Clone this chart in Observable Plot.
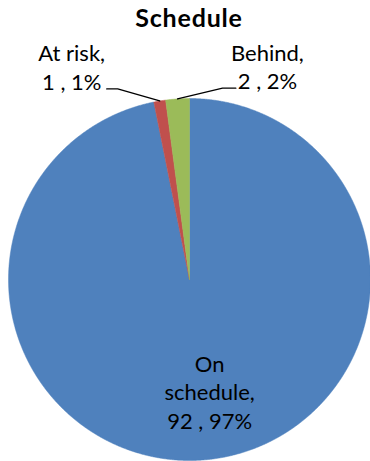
<!DOCTYPE html>
<html>
<head>
<meta charset="utf-8">
<script src="https://cdn.jsdelivr.net/npm/d3@7"></script>
<script src="https://cdn.jsdelivr.net/npm/@observablehq/plot@0.6"></script>
<style>
  body { margin: 0; background: #fff; }
  #chart { width: 370px; }
  .title {
    font-family: Lato, "Open Sans", sans-serif;
    font-weight: bold;
    font-size: 25px;
    letter-spacing: 0.8px;
    color: #000;
    width: 370px;
    height: 36px;
    line-height: 34px;
    padding-left: 8px;
    box-sizing: border-box;
    text-align: center;
    overflow: hidden;
  }
  svg { display: block; }
</style>
</head>
<body>
<div id="chart"><div class="title">Schedule</div></div>
<script>
// Status counts, in the order the slices are laid out clockwise from 12 o'clock
const categories = ["On schedule", "At risk", "Behind"];
const counts = [92, 1, 2];
const colors = ["#4F81BD", "#C0504D", "#9BBB59"];

// Layout: pixel offsets for the leader lines and outside labels
const outsideLayout = {
  "At risk": {elbow: [-42, -12], end: [-53, -12], label: [-35, 1]},
  "Behind": {elbow: [45, -10.7], end: [58.3, -10.7], label: [31.6, 1.3]}
};
const insideRadius = 0.62;
const insideDx = 9;

const W = 370, H = 425;
const R = 181;            // pie radius in pixels
const cx = 189, cy = 243; // pie center in pixels

const total = d3.sum(counts);
const arcs = d3.pie().sort(null).value(d => d)(counts);
const pct = v => Math.round(v / total * 100) + "%";

// Slice outlines sampled along the arc (unit circle, y up)
const slicePts = [];
arcs.forEach((a, i) => {
  const n = Math.max(2, Math.ceil((a.endAngle - a.startAngle) / (Math.PI / 720)));
  slicePts.push({cat: categories[i], x: 0, y: 0});
  for (let k = 0; k <= n; k++) {
    const t = a.startAngle + (a.endAngle - a.startAngle) * k / n;
    slicePts.push({cat: categories[i], x: Math.sin(t), y: Math.cos(t)});
  }
  slicePts.push({cat: categories[i], x: 0, y: 0});
});

// Leader lines and labels
const leaderPts = [];
const outsideLabels = [];
const insideLabels = [];
arcs.forEach((a, i) => {
  const name = categories[i];
  const mid = (a.startAngle + a.endAngle) / 2;
  const ex = Math.sin(mid), ey = Math.cos(mid);
  const lay = outsideLayout[name];
  if (lay) {
    const p1 = {cat: name, x: ex + lay.elbow[0] / R, y: ey - lay.elbow[1] / R};
    const p2 = {cat: name, x: ex + lay.end[0] / R, y: ey - lay.end[1] / R};
    leaderPts.push({cat: name, x: ex, y: ey}, p1, p2);
    outsideLabels.push({
      x: p2.x + lay.label[0] / R,
      y: p2.y - lay.label[1] / R,
      text: `${name},\n${counts[i]} , ${pct(counts[i])}`
    });
  } else {
    insideLabels.push({
      x: ex * insideRadius + insideDx / R,
      y: ey * insideRadius,
      text: `${name.replace(" ", "\n")},\n${counts[i]} , ${pct(counts[i])}`
    });
  }
});

const font = {fontFamily: "Lato, 'Open Sans', sans-serif", fontSize: 22, lineHeight: 1.3, fill: "#000"};

const chart = Plot.plot({
  width: W,
  height: H,
  margin: 0,
  style: {fontFamily: "Lato, 'Open Sans', sans-serif", background: "#fff"},
  x: {domain: [-1, 1], range: [cx - R, cx + R], axis: null},
  y: {domain: [-1, 1], range: [cy + R, cy - R], axis: null},
  color: {domain: categories, range: colors},
  marks: [
    Plot.line(slicePts, {x: "x", y: "y", z: "cat", fill: "cat", stroke: "cat", strokeWidth: 0.5, curve: "linear"}),
    Plot.line(leaderPts, {x: "x", y: "y", z: "cat", stroke: "#000", strokeWidth: 1.3}),
    Plot.text(outsideLabels, {x: "x", y: "y", text: "text", ...font, lineAnchor: "bottom", textAnchor: "middle"}),
    Plot.text(insideLabels, {x: "x", y: "y", text: "text", ...font, lineAnchor: "middle", textAnchor: "middle"})
  ]
});
document.getElementById("chart").appendChild(chart);
</script>
</body>
</html>
